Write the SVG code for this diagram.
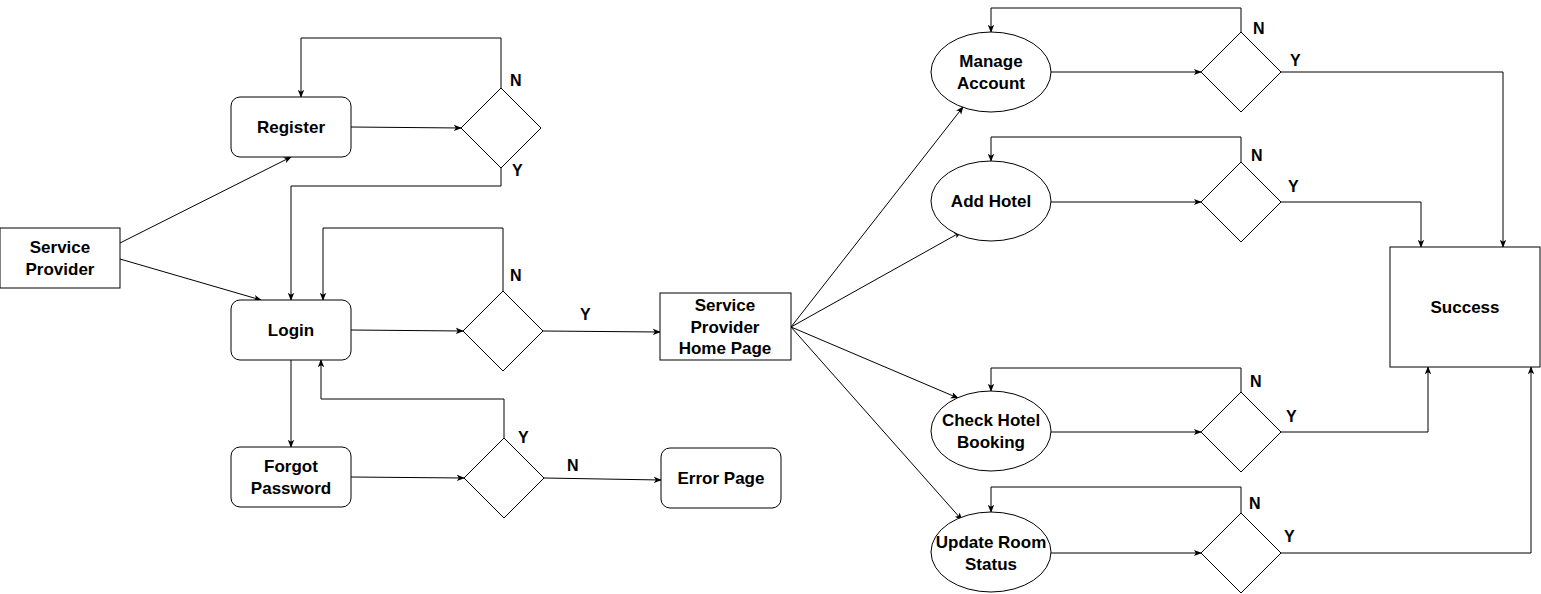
<svg xmlns="http://www.w3.org/2000/svg" width="1541" height="594" viewBox="0 0 1541 594">
<style>
.s{fill:#fff;stroke:#000;stroke-width:1}
.t{font-family:"Liberation Sans",Arial,sans-serif;font-weight:bold;font-size:17px;fill:#000;text-anchor:middle}
.l{font-family:"Liberation Sans",Arial,sans-serif;font-weight:bold;font-size:16px;fill:#000}
.c{fill:none;stroke:#000;stroke-width:1;marker-end:url(#a)}
</style>
<defs>
<marker id="a" viewBox="0 0 10 10" refX="9" refY="5" markerWidth="8" markerHeight="8" markerUnits="userSpaceOnUse" orient="auto">
<path d="M0,1 L10,5 L0,9 L2.5,5 Z" fill="#000"/>
</marker>
</defs>
<rect width="1541" height="594" fill="#fff"/>
<g id="connectors">
<path class="c" d="M120,243 L291,157"/>
<path class="c" d="M120,259 L261,300"/>
<path class="c" d="M351,127 L461,128"/>
<path class="c" d="M501,88 V38 H301 V97"/>
<path class="c" d="M501,168 V186 H291 V300"/>
<path class="c" d="M351,330 L463,331"/>
<path class="c" d="M503,291 V228 H323 V300"/>
<path class="c" d="M543,331 L660,332"/>
<path class="c" d="M291,360 V447"/>
<path class="c" d="M351,477 L464,478"/>
<path class="c" d="M504,438 V399 H321 V360"/>
<path class="c" d="M544,478 L661,480"/>
<path class="c" d="M791,327 L963,107"/>
<path class="c" d="M791,327 L961,232"/>
<path class="c" d="M791,327 L958,398"/>
<path class="c" d="M791,327 L962,520"/>
<path class="c" d="M1051,72 H1201"/>
<path class="c" d="M1241,32 V8 H991 V32"/>
<path class="c" d="M1281,72 H1503 V247"/>
<path class="c" d="M1051,202 H1201"/>
<path class="c" d="M1241,162 V137 H991 V161"/>
<path class="c" d="M1281,202 H1421 V247"/>
<path class="c" d="M1051,432 H1201"/>
<path class="c" d="M1241,392 V368 H991 V391"/>
<path class="c" d="M1281,432 H1428 V367"/>
<path class="c" d="M1051,553 H1201"/>
<path class="c" d="M1241,513 V487 H991 V512"/>
<path class="c" d="M1281,553 H1531 V367"/>
</g>
<g id="labels">
<text class="l" x="510" y="86">N</text>
<text class="l" x="512" y="176">Y</text>
<text class="l" x="510" y="281">N</text>
<text class="l" x="580" y="320">Y</text>
<text class="l" x="518" y="443">Y</text>
<text class="l" x="567" y="471">N</text>
<text class="l" x="1253" y="34">N</text>
<text class="l" x="1290" y="66">Y</text>
<text class="l" x="1251" y="161">N</text>
<text class="l" x="1288" y="192">Y</text>
<text class="l" x="1250" y="387">N</text>
<text class="l" x="1286" y="422">Y</text>
<text class="l" x="1249" y="509">N</text>
<text class="l" x="1284" y="542">Y</text>
</g>
<g id="service-provider"><rect class="s" x="0" y="228" width="120" height="60"/><text class="t" x="60" y="253">Service</text><text class="t" x="60" y="275">Provider</text></g>
<g id="register"><rect class="s" x="231" y="97" width="120" height="60" rx="9"/><text class="t" x="291" y="133">Register</text></g>
<g id="d-register"><path class="s" d="M501,88 L541,128 L501,168 L461,128 Z"/></g>
<g id="login"><rect class="s" x="231" y="300" width="120" height="60" rx="9"/><text class="t" x="291" y="336">Login</text></g>
<g id="d-login"><path class="s" d="M503,291 L543,331 L503,371 L463,331 Z"/></g>
<g id="home"><rect class="s" x="660" y="293" width="131" height="67"/><text class="t" x="725" y="311">Service</text><text class="t" x="725" y="333">Provider</text><text class="t" x="725" y="354">Home Page</text></g>
<g id="forgot"><rect class="s" x="231" y="447" width="120" height="60" rx="9"/><text class="t" x="291" y="472">Forgot</text><text class="t" x="291" y="494">Password</text></g>
<g id="d-forgot"><path class="s" d="M504,438 L544,478 L504,518 L464,478 Z"/></g>
<g id="error"><rect class="s" x="661" y="448" width="120" height="60" rx="9"/><text class="t" x="721" y="484">Error Page</text></g>
<g id="manage"><ellipse class="s" cx="991" cy="72" rx="60" ry="40"/><text class="t" x="991" y="67">Manage</text><text class="t" x="991" y="89">Account</text></g>
<g id="d-manage"><path class="s" d="M1241,32 L1281,72 L1241,112 L1201,72 Z"/></g>
<g id="addhotel"><ellipse class="s" cx="991" cy="201" rx="60" ry="40"/><text class="t" x="991" y="207">Add Hotel</text></g>
<g id="d-addhotel"><path class="s" d="M1241,162 L1281,202 L1241,242 L1201,202 Z"/></g>
<g id="check"><ellipse class="s" cx="991" cy="431" rx="60" ry="40"/><text class="t" x="991" y="426">Check Hotel</text><text class="t" x="991" y="448">Booking</text></g>
<g id="d-check"><path class="s" d="M1241,392 L1281,432 L1241,472 L1201,432 Z"/></g>
<g id="update"><ellipse class="s" cx="991" cy="552" rx="60" ry="40"/><text class="t" x="991" y="548">Update Room</text><text class="t" x="991" y="570">Status</text></g>
<g id="d-update"><path class="s" d="M1241,513 L1281,553 L1241,593 L1201,553 Z"/></g>
<g id="success"><rect class="s" x="1390" y="247" width="150" height="120"/><text class="t" x="1465" y="313">Success</text></g>
</svg>
